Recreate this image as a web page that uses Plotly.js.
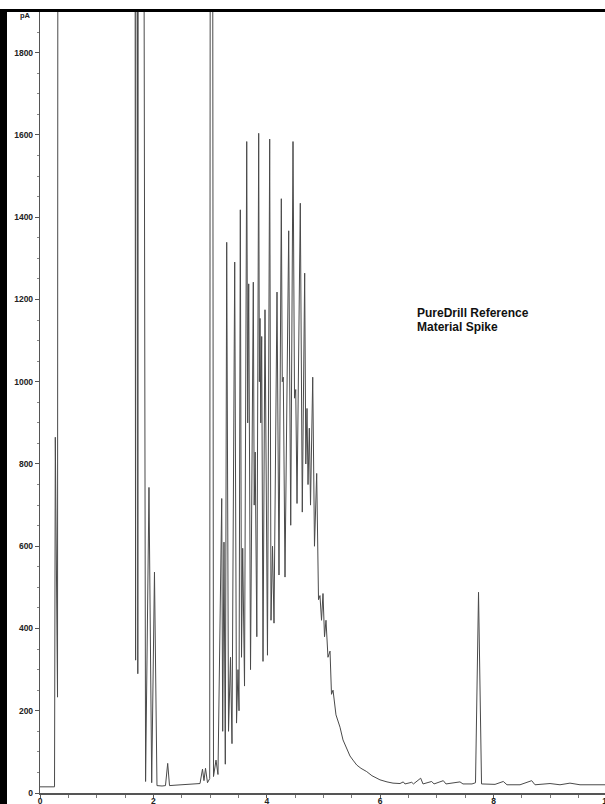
<!DOCTYPE html>
<html>
<head>
<meta charset="utf-8">
<script src="https://cdn.plot.ly/plotly-3.0.1.min.js"></script>
<style>
  html, body { margin: 0; padding: 0; background: #fff; overflow: hidden; width: 605px; height: 804px; }
  #chart { position: absolute; left: 0; top: 0; }
  .frame { position: absolute; background: #000; z-index: 10; }
</style>
</head>
<body>
<div id="chart"></div>
<div class="frame" style="left:0; top:9px; width:7px; height:795px;"></div>
<div class="frame" style="left:0; top:9px; width:605px; height:3px;"></div>
<script>
// Retention time (min) and detector signal (pA)
const solventTime = [0, 0.256, 0.270, 0.309, 0.326, 1.0, 1.658, 1.686, 1.704, 1.725, 1.746, 1.781,
  1.862, 1.922, 1.970, 2.019, 2.063, 2.152, 2.213, 2.252, 2.284, 2.381, 2.557, 2.734,
  2.822, 2.866, 2.892, 2.919, 2.954, 2.993, 3.019, 3.060];
const solventSignal = [15, 15, 865, 233, 6000, 6000, 6000, 323, 6000, 290, 6000, 6000,
  28, 743, 25, 537, 18, 17, 18, 72, 18, 19, 20, 21,
  23, 58, 30, 60, 25, 35, 6000, 40];

const clusterTime = [3.104, 3.139, 3.205, 3.222, 3.245, 3.268, 3.293, 3.325, 3.360, 3.386,
  3.434, 3.466, 3.492, 3.510, 3.533, 3.554, 3.575, 3.607, 3.646, 3.663,
  3.681, 3.713, 3.762, 3.778, 3.795, 3.824, 3.857, 3.869, 3.880, 3.894,
  3.910, 3.933, 3.968, 4.012, 4.051, 4.074, 4.101, 4.127, 4.180, 4.215,
  4.256, 4.273, 4.291, 4.321, 4.386, 4.422, 4.462, 4.489, 4.510, 4.533,
  4.591, 4.626, 4.668, 4.688, 4.709, 4.727, 4.750, 4.771, 4.810, 4.841,
  4.880, 4.912, 4.938, 4.965, 4.991, 5.018, 5.044, 5.079, 5.115, 5.141, 5.168];
const clusterSignal = [80, 45, 716, 150, 610, 70, 1339, 150, 330, 120,
  1291, 170, 300, 200, 1418, 330, 595, 260, 1584, 900,
  1238, 300, 1242, 700, 829, 380, 1604, 1000, 1154, 900,
  1110, 320, 1175, 335, 1590, 420, 600, 413, 1218, 530,
  1445, 1000, 1011, 525, 1367, 651, 1584, 960, 981, 704,
  1434, 683, 1264, 800, 935, 750, 887, 700, 1011, 600,
  777, 470, 480, 420, 485, 380, 420, 330, 345, 240, 250];

const tailTime = [5.220, 5.291, 5.344, 5.397, 5.467, 5.520, 5.586, 5.661, 5.762, 5.855,
  5.996, 6.120, 6.226, 6.349, 6.407, 6.437, 6.556, 6.587, 6.714, 6.755,
  6.908, 6.949, 7.113, 7.160, 7.407, 7.460, 7.619, 7.681, 7.734, 7.787,
  8.025, 8.171, 8.236, 8.466, 8.672, 8.730, 8.995, 9.171, 9.347, 9.524, 10.0];
const tailSignal = [190, 160, 129, 110, 90, 80, 68, 60, 52, 42,
  32, 27, 24, 23, 27, 22, 26, 22, 36, 22,
  28, 22, 30, 22, 27, 22, 22, 25, 488, 22,
  21, 28, 20, 20, 30, 20, 23, 20, 24, 20, 20];

const xTickVals = [0, 2, 4, 6, 8, 10];
const xTickText = ['0', '2', '4', '6', '8', '10'];
const yTickVals = [0, 200, 400, 600, 800, 1000, 1200, 1400, 1600, 1800];
const yTickText = ['0', '200', '400', '600', '800', '1000', '1200', '1400', '1600', '1800'];
const yUnit = 'pA';
const labelLines = ['PureDrill Reference', 'Material Spike'];

const times = solventTime.concat(clusterTime, tailTime);
const signal = solventSignal.concat(clusterSignal, tailSignal);

const tickFont = {family: 'Liberation Sans, Arial, sans-serif', size: 8.5, weight: 'bold', color: '#222'};

const trace = {
  x: times, y: signal, type: 'scatter', mode: 'lines',
  line: {color: '#4a4a4a', width: 1},
  hoverinfo: 'skip'
};

const layout = {
  width: 614, height: 815,
  margin: {l: 40, r: 7, t: 12, b: 22, pad: 0},
  paper_bgcolor: '#fff', plot_bgcolor: '#fff',
  showlegend: false,
  xaxis: {
    range: [0, 10], showgrid: false, zeroline: false,
    showline: true, linecolor: '#555', linewidth: 1.5,
    ticks: 'outside', ticklen: 3, tickcolor: '#555', tickwidth: 1,
    tickvals: xTickVals, ticktext: xTickText, tickfont: tickFont,
    ticklabelstandoff: -4,
    minor: {dtick: 0.5, ticks: 'outside', ticklen: 3, tickcolor: '#777'}
  },
  yaxis: {
    range: [0, 1899], showgrid: false, zeroline: false,
    showline: true, linecolor: '#555', linewidth: 1.2,
    ticks: 'outside', ticklen: 4, tickcolor: '#555', tickwidth: 1,
    tickvals: yTickVals, ticktext: yTickText, tickfont: tickFont,
    minor: {dtick: 50, ticks: 'outside', ticklen: 2, tickcolor: '#888'}
  },
  annotations: [
    {xref: 'paper', yref: 'paper', x: -0.0247, y: 0.996, xanchor: 'center', yanchor: 'middle',
     text: yUnit, showarrow: false, font: {family: 'Liberation Sans, Arial, sans-serif', size: 7.5, weight: 'bold', color: '#222'}},
    {xref: 'x', yref: 'y', x: 6.61, y: 1168, xanchor: 'left', yanchor: 'middle',
     text: labelLines[0], showarrow: false, font: {family: 'Liberation Sans, Arial, sans-serif', size: 12, weight: 'bold', color: '#111'}},
    {xref: 'x', yref: 'y', x: 6.61, y: 1134, xanchor: 'left', yanchor: 'middle',
     text: labelLines[1], showarrow: false, font: {family: 'Liberation Sans, Arial, sans-serif', size: 12, weight: 'bold', color: '#111'}}
  ]
};

Plotly.newPlot('chart', [trace], layout, {displayModeBar: false, staticPlot: true});
</script>
</body>
</html>
